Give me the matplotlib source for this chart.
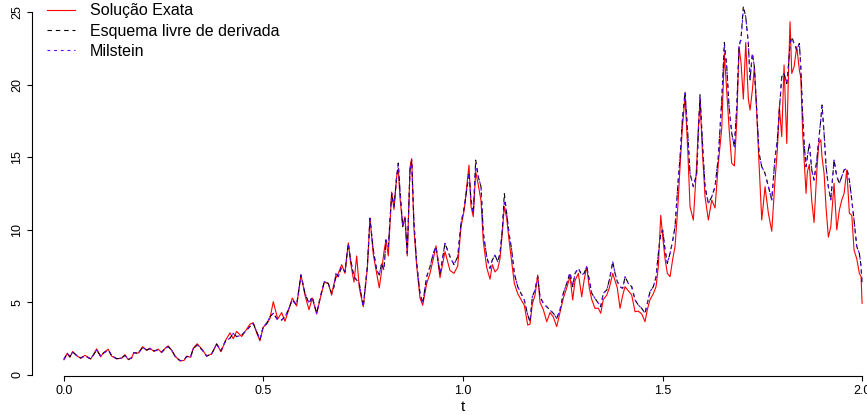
import matplotlib
matplotlib.use("Agg")
import matplotlib.pyplot as plt

plt.rcParams['font.family'] = ['Liberation Sans', 'DejaVu Sans']

t = [0.0000, 0.0083, 0.0150, 0.0218, 0.0318, 0.0419, 0.0526, 0.0669, 0.0734, 0.0820,
     0.0920, 0.0985, 0.1110, 0.1195, 0.1321, 0.1446, 0.1529, 0.1612, 0.1697, 0.1754,
     0.1862, 0.1972, 0.2073, 0.2155, 0.2256, 0.2363, 0.2449, 0.2556, 0.2614, 0.2699,
     0.2782, 0.2907, 0.3008, 0.3075, 0.3175, 0.3241, 0.3341, 0.3466, 0.3576, 0.3702,
     0.3827, 0.3935, 0.4053, 0.4160, 0.4243, 0.4328, 0.4454, 0.4579, 0.4662, 0.4744,
     0.4830, 0.4912, 0.4995, 0.5080, 0.5163, 0.5246, 0.5356, 0.5456, 0.5539, 0.5622,
     0.5722, 0.5832, 0.5940, 0.6040, 0.6140, 0.6223, 0.6333, 0.6416, 0.6524, 0.6624,
     0.6709, 0.6767, 0.6817, 0.6875, 0.6960, 0.7043, 0.7125, 0.7185, 0.7268, 0.7336,
     0.7401, 0.7501, 0.7602, 0.7669, 0.7752, 0.7837, 0.7902, 0.7962, 0.8020, 0.8070,
     0.8128, 0.8213, 0.8271, 0.8338, 0.8378, 0.8421, 0.8489, 0.8546, 0.8604, 0.8672,
     0.8714, 0.8772, 0.8840, 0.8922, 0.8990, 0.9090, 0.9173, 0.9256, 0.9323, 0.9424,
     0.9549, 0.9674, 0.9774, 0.9867, 0.9950, 1.0033, 1.0093, 1.0150, 1.0201, 1.0258,
     1.0318, 1.0383, 1.0451, 1.0509, 1.0594, 1.0677, 1.0734, 1.0802, 1.0870, 1.0927,
     1.0985, 1.1035, 1.1095, 1.1153, 1.1220, 1.1286, 1.1371, 1.1454, 1.1536, 1.1622,
     1.1679, 1.1737, 1.1805, 1.1872, 1.1930, 1.2013, 1.2098, 1.2180, 1.2263, 1.2348,
     1.2431, 1.2514, 1.2599, 1.2682, 1.2749, 1.2807, 1.2890, 1.2975, 1.3033, 1.3100,
     1.3165, 1.3226, 1.3308, 1.3391, 1.3451, 1.3516, 1.3602, 1.3667, 1.3752, 1.3810,
     1.3867, 1.3935, 1.4003, 1.4060, 1.4143, 1.4228, 1.4311, 1.4393, 1.4479, 1.4561,
     1.4619, 1.4687, 1.4769, 1.4837, 1.4895, 1.4955, 1.5005, 1.5063, 1.5120, 1.5188,
     1.5256, 1.5313, 1.5381, 1.5439, 1.5496, 1.5564, 1.5632, 1.5689, 1.5772, 1.5857,
     1.5897, 1.5940, 1.5997, 1.6065, 1.6148, 1.6233, 1.6316, 1.6398, 1.6484, 1.6549,
     1.6609, 1.6667, 1.6734, 1.6800, 1.6860, 1.6917, 1.6967, 1.7025, 1.7085, 1.7150,
     1.7193, 1.7251, 1.7301, 1.7361, 1.7419, 1.7486, 1.7569, 1.7652, 1.7737, 1.7820,
     1.7877, 1.7927, 1.7987, 1.8045, 1.8113, 1.8153, 1.8195, 1.8238, 1.8296, 1.8363,
     1.8429, 1.8464, 1.8514, 1.8554, 1.8596, 1.8629, 1.8679, 1.8739, 1.8797, 1.8865,
     1.8915, 1.8965, 1.8997, 1.9048, 1.9098, 1.9155, 1.9216, 1.9298, 1.9366, 1.9431,
     1.9491, 1.9549, 1.9617, 1.9682, 1.9742, 1.9799, 1.9867, 1.9932, 1.9975, 2.0000]

solucao_exata = [
    1.05, 1.50, 1.22, 1.62, 1.33, 1.15, 1.36, 1.10, 1.38, 1.80,
    1.25, 1.52, 1.78, 1.30, 1.12, 1.15, 1.40, 1.05, 1.20, 1.55,
    1.50, 1.95, 1.70, 1.85, 1.62, 1.78, 1.55, 1.90, 2.00, 1.70,
    1.30, 0.97, 1.00, 1.30, 1.22, 1.85, 2.15, 1.75, 1.30, 1.45,
    2.15, 1.60, 2.40, 2.90, 2.50, 3.00, 2.65, 3.15, 3.50, 3.60,
    2.90, 2.35, 3.30, 3.50, 3.90, 5.05, 3.85, 4.30, 3.70, 4.40,
    5.30, 4.75, 6.90, 5.50, 4.50, 5.30, 4.20, 5.20, 6.40, 6.30,
    5.50, 6.30, 6.70, 7.00, 7.60, 7.00, 9.10, 7.70, 6.40, 8.20,
    6.00, 4.70, 7.30, 10.80, 8.30, 7.00, 6.00, 7.20, 8.50, 9.30,
    8.20, 12.60, 11.40, 13.70, 14.20, 12.20, 10.30, 10.90, 8.20, 14.30,
    14.90, 10.00, 7.50, 5.30, 4.80, 6.30, 7.00, 8.00, 8.90, 6.70,
    8.50, 7.20, 7.00, 7.50, 10.20, 11.40, 13.00, 14.46, 11.60, 10.90,
    14.00, 13.10, 12.00, 9.20, 7.40, 6.60, 7.60, 7.10, 7.30, 8.00,
    9.80, 11.60, 10.80, 9.30, 7.80, 6.31, 5.60, 5.20, 4.80, 3.44,
    3.50, 4.90, 5.50, 6.89, 5.00, 4.50, 3.67, 4.30, 4.00, 3.33,
    4.30, 5.30, 6.00, 6.80, 5.17, 6.50, 7.00, 5.39, 6.50, 7.46,
    6.00, 5.20, 4.59, 4.60, 4.25, 5.20, 5.50, 6.00, 7.00, 6.50,
    6.00, 4.59, 5.50, 6.08, 5.80, 5.50, 4.36, 4.40, 4.20, 3.67,
    4.50, 5.20, 5.60, 6.08, 7.50, 11.00, 9.50, 8.00, 7.00, 6.77,
    8.00, 8.84, 11.50, 14.35, 17.00, 19.17, 15.50, 11.59, 10.67, 14.58,
    17.00, 18.94, 15.50, 12.28, 10.67, 12.05, 11.50, 14.58, 17.00, 22.15,
    19.50, 17.00, 14.58, 14.40, 17.50, 22.60, 21.50, 19.00, 22.90, 19.00,
    18.25, 19.63, 21.23, 18.00, 14.50, 10.67, 12.97, 11.14, 9.90, 13.50,
    15.50, 18.48, 16.42, 21.35, 15.95, 20.50, 24.33, 20.77, 21.23, 22.61,
    21.00, 20.50, 16.50, 14.50, 12.51, 14.00, 14.50, 12.00, 10.50, 14.00,
    15.95, 16.20, 15.00, 13.89, 11.50, 9.50, 10.21, 13.20, 9.99, 11.36,
    12.05, 12.50, 14.12, 11.14, 11.00, 8.60, 8.00, 7.00, 6.77, 4.94]

esquema_livre = [
    1.08, 1.49, 1.26, 1.58, 1.35, 1.17, 1.31, 1.12, 1.35, 1.72,
    1.31, 1.49, 1.72, 1.35, 1.12, 1.17, 1.35, 1.08, 1.17, 1.54,
    1.49, 1.90, 1.72, 1.81, 1.67, 1.72, 1.58, 1.86, 1.95, 1.72,
    1.31, 0.99, 1.03, 1.26, 1.26, 1.81, 2.07, 1.72, 1.31, 1.45,
    2.13, 1.67, 2.36, 2.53, 2.87, 2.64, 2.75, 3.10, 3.33, 3.56,
    2.98, 2.46, 3.33, 3.56, 4.01, 4.25, 3.79, 3.79, 4.01, 4.48,
    5.17, 4.82, 6.89, 5.63, 4.94, 5.39, 4.25, 5.28, 6.43, 6.31,
    5.63, 6.08, 7.00, 6.77, 7.46, 7.11, 9.07, 7.92, 6.77, 6.54,
    6.31, 4.70, 7.46, 10.79, 8.61, 7.23, 6.89, 7.69, 7.23, 9.30,
    8.84, 12.51, 11.59, 13.66, 14.60, 12.74, 10.21, 10.79, 8.38, 14.12,
    14.81, 10.45, 7.69, 5.63, 4.94, 6.77, 7.46, 8.38, 8.84, 7.00,
    9.07, 8.15, 7.60, 8.15, 10.45, 11.59, 12.74, 13.95, 12.05, 11.14,
    14.80, 13.66, 12.97, 9.76, 8.15, 7.35, 7.92, 8.26, 7.80, 8.38,
    9.99, 12.50, 11.14, 9.76, 8.61, 7.00, 6.08, 5.63, 5.17, 4.13,
    3.67, 5.39, 5.85, 6.77, 5.39, 4.94, 4.70, 4.48, 4.25, 3.90,
    4.48, 5.63, 6.31, 7.05, 6.08, 7.00, 7.35, 6.89, 7.00, 7.46,
    6.54, 5.63, 5.28, 4.94, 4.70, 5.63, 5.85, 6.54, 7.80, 7.00,
    6.43, 6.08, 5.97, 6.77, 6.31, 6.08, 5.17, 4.82, 4.59, 4.25,
    4.94, 5.74, 6.08, 6.77, 8.38, 9.76, 9.99, 8.61, 7.69, 8.38,
    9.30, 10.21, 12.97, 15.03, 17.56, 19.50, 16.65, 13.89, 12.97, 13.89,
    16.65, 19.30, 16.18, 12.97, 11.82, 12.28, 12.97, 15.03, 18.94, 22.90,
    21.23, 18.48, 16.65, 15.72, 18.48, 22.61, 23.20, 25.40, 24.67, 22.84,
    20.32, 22.15, 21.23, 18.25, 15.27, 14.35, 13.89, 12.97, 12.05, 15.03,
    16.18, 18.25, 20.54, 20.77, 20.08, 21.23, 22.84, 23.30, 22.84, 22.38,
    22.84, 21.23, 17.79, 15.72, 14.35, 15.03, 15.95, 14.12, 13.43, 14.81,
    16.18, 17.56, 18.60, 16.65, 14.35, 12.97, 12.05, 14.81, 13.66, 13.20,
    13.66, 14.12, 14.23, 13.43, 12.05, 10.67, 8.84, 8.38, 7.46, 6.30]

milstein = [
    1.08, 1.49, 1.26, 1.58, 1.35, 1.17, 1.31, 1.12, 1.35, 1.72,
    1.31, 1.49, 1.72, 1.35, 1.12, 1.17, 1.35, 1.08, 1.17, 1.54,
    1.49, 1.90, 1.72, 1.81, 1.67, 1.72, 1.58, 1.86, 1.95, 1.72,
    1.31, 0.99, 1.03, 1.26, 1.26, 1.81, 2.07, 1.72, 1.31, 1.45,
    2.13, 1.67, 2.36, 2.53, 2.87, 2.64, 2.75, 3.10, 3.33, 3.56,
    2.98, 2.46, 3.33, 3.56, 4.01, 4.25, 3.79, 3.79, 4.01, 4.48,
    5.17, 4.82, 6.89, 5.63, 4.94, 5.39, 4.25, 5.28, 6.43, 6.31,
    5.63, 6.08, 7.00, 6.77, 7.46, 7.11, 9.07, 7.92, 6.77, 6.54,
    6.31, 4.70, 7.46, 10.79, 8.61, 7.23, 6.89, 7.69, 7.23, 9.30,
    8.84, 12.51, 11.59, 13.66, 14.46, 12.74, 10.21, 10.79, 8.38, 14.12,
    14.81, 10.45, 7.69, 5.63, 4.94, 6.77, 7.46, 8.38, 8.84, 7.00,
    9.07, 8.15, 7.60, 8.15, 10.45, 11.59, 12.74, 13.89, 12.05, 11.14,
    14.58, 13.66, 12.97, 9.76, 8.15, 7.35, 7.92, 8.26, 7.80, 8.38,
    9.99, 12.05, 11.14, 9.76, 8.61, 7.00, 6.08, 5.63, 5.17, 4.13,
    3.67, 5.39, 5.85, 6.77, 5.39, 4.94, 4.70, 4.48, 4.25, 3.90,
    4.48, 5.63, 6.31, 7.05, 6.08, 7.00, 7.35, 6.89, 7.00, 7.46,
    6.54, 5.63, 5.28, 4.94, 4.70, 5.63, 5.85, 6.54, 7.80, 7.00,
    6.43, 6.08, 5.97, 6.77, 6.31, 6.08, 5.17, 4.82, 4.59, 4.25,
    4.94, 5.74, 6.08, 6.77, 8.38, 9.76, 9.99, 8.61, 7.69, 8.38,
    9.30, 10.21, 12.97, 15.03, 17.56, 19.40, 16.65, 13.89, 12.97, 13.89,
    16.65, 19.17, 16.18, 12.97, 11.82, 12.28, 12.97, 15.03, 18.94, 22.73,
    21.23, 18.48, 16.65, 15.72, 18.48, 22.61, 23.07, 25.20, 24.67, 22.84,
    20.32, 22.15, 21.23, 18.25, 15.27, 14.35, 13.89, 12.97, 12.05, 15.03,
    16.18, 18.25, 20.54, 20.77, 20.08, 21.23, 22.84, 23.18, 22.84, 22.38,
    22.84, 21.23, 17.79, 15.72, 14.35, 15.03, 15.95, 14.12, 13.43, 14.81,
    16.18, 17.56, 18.48, 16.65, 14.35, 12.97, 12.05, 14.81, 13.66, 13.20,
    13.66, 14.12, 14.23, 13.43, 12.05, 10.67, 8.84, 8.38, 7.46, 6.30]

legend_labels = ["Solução Exata", "Esquema livre de derivada", "Milstein"]
x_ticks = [0.0, 0.5, 1.0, 1.5, 2.0]
x_tick_labels = ["0.0", "0.5", "1.0", "1.5", "2.0"]
y_ticks = [0, 5, 10, 15, 20, 25]
y_tick_labels = ["0", "5", "10", "15", "20", "25"]

W, H = 867, 415
fig = plt.figure(figsize=(W / 100, H / 100), dpi=100)
ax = fig.add_axes([32 / W, (H - 376) / H, (894 - 32) / W, (376 + 7) / H])

ax.plot(t, solucao_exata, color="#ff0000", lw=0.8, label=legend_labels[0])
ax.plot(t, esquema_livre, color="black", lw=0.8, linestyle=(0, (4, 3.5)), label=legend_labels[1])
ax.plot(t, milstein, color="#6000ff", lw=0.8, linestyle=(0, (2.5, 3.5)), label=legend_labels[2])

ax.set_xlim(-0.08, 2.08)
ax.set_ylim(-0.069, 26.31)

for s in ["top", "right"]:
    ax.spines[s].set_visible(False)
ax.spines["left"].set_bounds(0, 25)
ax.spines["bottom"].set_bounds(0, 2)
ax.spines["left"].set_linewidth(0.8)
ax.spines["bottom"].set_linewidth(0.8)

ax.set_xticks(x_ticks)
ax.set_xticklabels(x_tick_labels)
ax.set_yticks(y_ticks)
ax.set_yticklabels(y_tick_labels)
ax.tick_params(axis="both", length=3.8, width=0.8, labelsize=9)
ax.tick_params(axis="x", pad=2.5)
ax.tick_params(axis="y", pad=2.5)
for lab in ax.get_yticklabels():
    lab.set_rotation(90)
    lab.set_va("center")

ax.set_xlabel("t", fontsize=11, labelpad=2)

leg = ax.legend(loc="upper left", bbox_to_anchor=(47 / W, 1 - 3.5 / H),
                bbox_transform=fig.transFigure, frameon=False,
                fontsize=11.5, handlelength=1.75, handletextpad=0.94,
                labelspacing=0.32, borderpad=0, borderaxespad=0)

fig.savefig("out.png", dpi=100)
